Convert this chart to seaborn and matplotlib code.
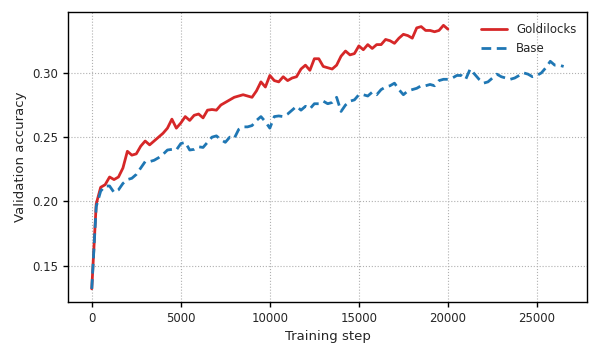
import numpy as np
import pandas as pd
import matplotlib
matplotlib.use("Agg")
import matplotlib.pyplot as plt
import seaborn as sns

step_interval = 250

goldilocks_acc = [
    0.132, 0.198, 0.211, 0.213, 0.219, 0.217, 0.219, 0.226, 0.239, 0.236,
    0.237, 0.243, 0.247, 0.244, 0.247, 0.250, 0.253, 0.257, 0.264, 0.257,
    0.261, 0.266, 0.263, 0.267, 0.268, 0.265, 0.271, 0.2715, 0.271, 0.275,
    0.277, 0.279, 0.281, 0.282, 0.283, 0.282, 0.281, 0.286, 0.293, 0.289,
    0.298, 0.294, 0.293, 0.297, 0.294, 0.296, 0.297, 0.303, 0.306, 0.302,
    0.311, 0.311, 0.305, 0.304, 0.303, 0.306, 0.313, 0.317, 0.314, 0.315,
    0.321, 0.318, 0.322, 0.319, 0.322, 0.322, 0.326, 0.325, 0.323, 0.327,
    0.330, 0.329, 0.327, 0.335, 0.336, 0.333, 0.333, 0.332, 0.333, 0.337,
    0.334,
]

base_acc = [
    0.132, 0.196, 0.208, 0.212, 0.212, 0.207, 0.209, 0.214, 0.217, 0.218,
    0.221, 0.226, 0.231, 0.231, 0.232, 0.234, 0.2366, 0.240, 0.2405, 0.240,
    0.245, 0.246, 0.240, 0.2405, 0.2425, 0.242, 0.246, 0.250, 0.251, 0.248,
    0.246, 0.250, 0.249, 0.256, 0.258, 0.258, 0.259, 0.263, 0.266, 0.262,
    0.257, 0.266, 0.2665, 0.266, 0.268, 0.271, 0.274, 0.271, 0.274, 0.272,
    0.276, 0.276, 0.278, 0.276, 0.277, 0.281, 0.270, 0.275, 0.278, 0.279,
    0.283, 0.283, 0.282, 0.285, 0.283, 0.287, 0.289, 0.290, 0.292, 0.287,
    0.283, 0.286, 0.287, 0.288, 0.290, 0.290, 0.291, 0.290, 0.294, 0.295,
    0.295, 0.296, 0.298, 0.298, 0.295, 0.303, 0.299, 0.295, 0.292, 0.293,
    0.296, 0.299, 0.297, 0.296, 0.295, 0.296, 0.298, 0.300, 0.299, 0.297,
    0.298, 0.300, 0.304, 0.309, 0.306, 0.306, 0.305,
]

goldilocks_steps = [i * step_interval for i in range(len(goldilocks_acc))]
base_steps = [i * step_interval for i in range(len(base_acc))]

series_names = ["Goldilocks", "Base"]
series_colors = ["#d62728", "#1f77b4"]

sns.set_style("white")
plt.rcParams["font.family"] = ["DejaVu Sans"]

fig = plt.figure(figsize=(5.98, 3.57), dpi=100)
ax = fig.add_axes([0.114, 0.154, 0.868, 0.812])

df_g = pd.DataFrame({"step": goldilocks_steps, "acc": goldilocks_acc})
df_b = pd.DataFrame({"step": base_steps, "acc": base_acc})

sns.lineplot(data=df_g, x="step", y="acc", ax=ax, color=series_colors[0],
             linewidth=2.0, label=series_names[0])
sns.lineplot(data=df_b, x="step", y="acc", ax=ax, color=series_colors[1],
             linewidth=2.0, linestyle=(0, (3.5, 2)), label=series_names[1])

ax.set_xlabel("Training step", fontsize=9.5)
ax.set_ylabel("Validation accuracy", fontsize=9.5)
ax.set_xticks([0, 5000, 10000, 15000, 20000, 25000])
ax.set_yticks([0.15, 0.20, 0.25, 0.30])
ax.set_yticklabels(["0.15", "0.20", "0.25", "0.30"])
ax.tick_params(axis="both", labelsize=8.5, direction="out", length=3.5, width=1,
               color="black", left=True, bottom=True)
ax.grid(True, linestyle=":", color="#b0b0b0", linewidth=0.8)
for s in ax.spines.values():
    s.set_visible(True)
    s.set_color("black")
    s.set_linewidth(1.0)

leg = ax.legend(loc="upper right", frameon=False, fontsize=8.5,
                handlelength=2.2)

fig.savefig("out.png", dpi=100)
